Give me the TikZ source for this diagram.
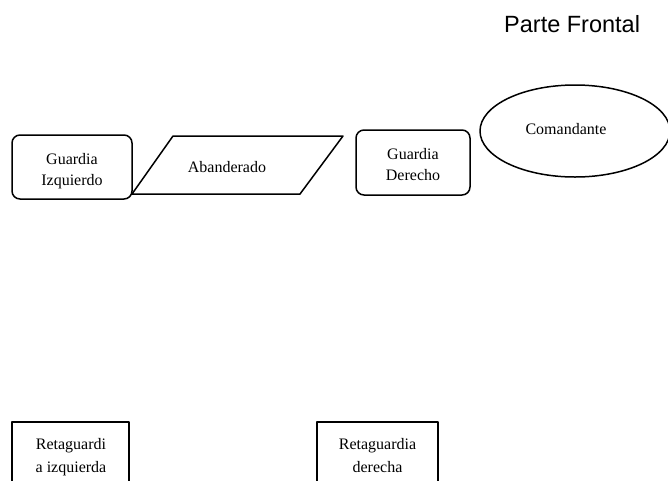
\documentclass[tikz,border=0pt]{standalone}
\usepackage{fontspec}
\setmainfont{Liberation Serif}
\newfontfamily\arialfont{Liberation Sans}
\begin{document}
\begin{tikzpicture}[x=1pt,y=-1pt,
  shapeline/.style={line width=1.5pt, line join=round},
  lbl/.style={font=\fontsize{16}{21}\selectfont, inner sep=0pt, anchor=base},
  title/.style={font=\arialfont\fontsize{23.5}{28}\selectfont, inner sep=0pt, anchor=base west}]
\useasboundingbox (0,0) rectangle (668,480);
% title
\node[title] (pf) at (504,32) {Parte Frontal};
% Guardia Izquierdo
\draw[shapeline, rounded corners=8pt] (12,135) rectangle (132,199);
\node[lbl] (gi1) at (72,164) {Guardia};
\node[lbl] (gi2) at (72,185) {Izquierdo};
% Abanderado
\draw[shapeline] (173,136) -- (343,136) -- (300,194) -- (132,194) -- cycle;
\node[lbl] (ab) at (227,172) {Abanderado};
% Guardia Derecho
\draw[shapeline, rounded corners=8pt] (356,130) rectangle (470,195);
\node[lbl] (gd1) at (413,159) {Guardia};
\node[lbl] (gd2) at (413,180) {Derecho};
% Comandante
\draw[shapeline] (575,131) ellipse [x radius=95, y radius=46];
\node[lbl] (co) at (566,134) {Comandante};
% Retaguardia izquierda
\draw[shapeline] (12,422) rectangle (129,495);
\node[lbl] (ri1) at (71,449) {Retaguardi};
\node[lbl] (ri2) at (71,472) {a izquierda};
% Retaguardia derecha
\draw[shapeline] (317,422) rectangle (438,495);
\node[lbl] (rd1) at (377.5,449) {Retaguardia};
\node[lbl] (rd2) at (377.5,472) {derecha};
\end{tikzpicture}
\end{document}
